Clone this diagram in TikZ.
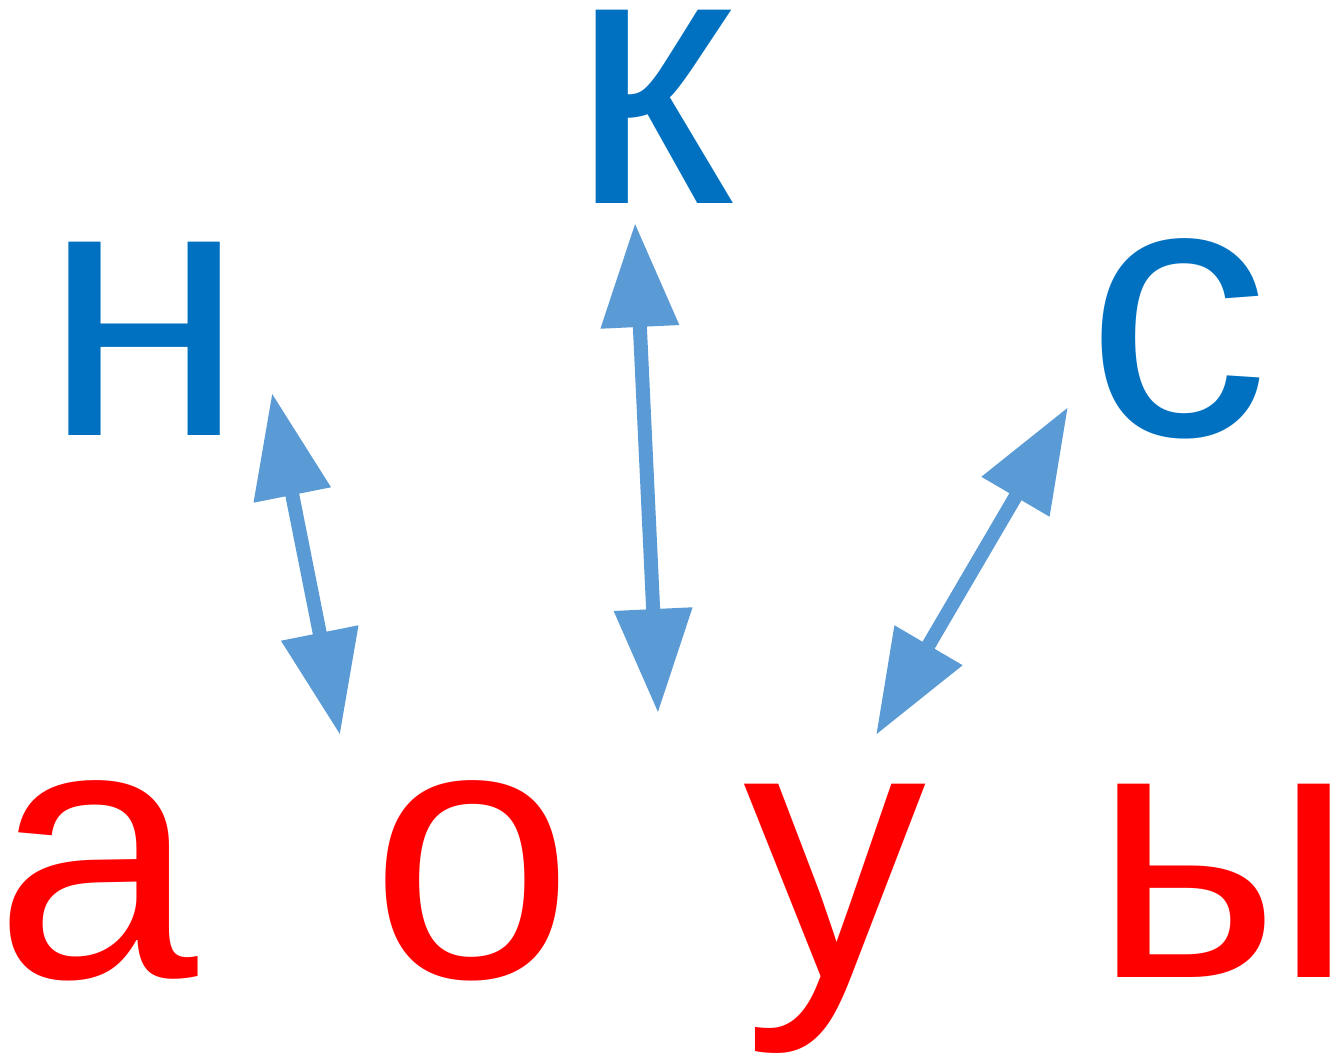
\documentclass[tikz,border=0pt]{standalone}
\usepackage{fontspec}
\setmainfont{Liberation Sans}
\usetikzlibrary{arrows.meta}
\definecolor{topblue}{HTML}{0070C0}
\definecolor{arrowblue}{HTML}{5B9BD5}
\definecolor{vred}{HTML}{FF0000}
\tikzset{
  letter/.style={inner sep=0pt, anchor=base, font=\fontsize{366}{366}\selectfont},
  cons/.style={letter, text=topblue},
  vow/.style={letter, text=vred},
  link/.style={draw=arrowblue, line width=14pt,
    {Triangle[length=104pt,width=75pt]}-{Triangle[length=104pt,width=75pt]}}
}
\begin{document}
\begin{tikzpicture}[x=1pt,y=-1pt]
\useasboundingbox (0,0) rectangle (1336,1057);
\node[cons] (n) at (145,435) {н};
\node[cons] (k) at (652,203) {к};
\node[cons] (s) at (1178,435) {с};
\node[vow] (a) at (96,977) {а};
\node[vow] (o) at (472,977) {о};
\node[vow] (u) at (835,977) {у};
\node[vow] (y) at (1224,977) {ы};
\coordinate (n1) at (272,393);
\coordinate (n2) at (340,735);
\coordinate (k1) at (635,223);
\coordinate (k2) at (658,713);
\coordinate (s1) at (1068,407);
\coordinate (s2) at (876,735);
\draw[link] (n1) -- (n2);
\draw[link] (k1) -- (k2);
\draw[link] (s1) -- (s2);
\end{tikzpicture}
\end{document}
